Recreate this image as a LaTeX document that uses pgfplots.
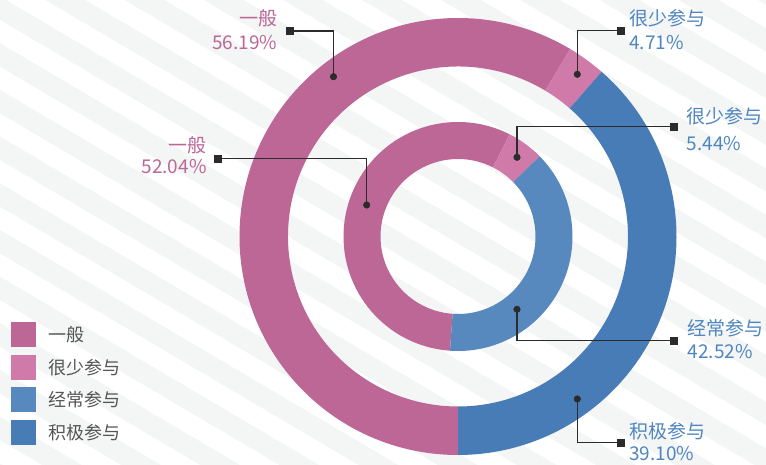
\documentclass[border=0pt]{standalone}
\usepackage{pgfplots}
\pgfplotsset{compat=1.18}
\usepackage{fontspec}
\setmainfont{Noto Sans CJK SC}
\definecolor{cYiban}{HTML}{BC6796}
\definecolor{cHenshao}{HTML}{CF7AA8}
\definecolor{cJingchang}{HTML}{5789BE}
\definecolor{cJiji}{HTML}{487CB6}
\definecolor{stripe}{HTML}{F4F6F6}
\definecolor{txtPink}{HTML}{BC6796}
\definecolor{txtBlue}{HTML}{4F86C0}
\definecolor{legtxt}{HTML}{555555}
\definecolor{leader}{HTML}{2B2B2B}

% ring centre (axis units = pt)
\def\cx{458}
\def\cy{227.5}
% wedge: colour, start angle, end angle, inner radius, outer radius
\newcommand\wedgeshape[5]{%
  \fill[#1] (axis cs:\cx,\cy) ++(#2:#5pt) arc[start angle=#2,end angle=#3,radius=#5pt]
     -- ++({#3+180}:{(#5-#4)*1pt}) arc[start angle=#3,end angle=#2,radius=#4pt] -- cycle;%
}

\begin{document}
\begin{tikzpicture}[font=\fontsize{19}{23}\selectfont]
\useasboundingbox (0,0) rectangle (766pt,464pt);
\clip (0,0) rectangle (766pt,464pt);
\fill[white] (0,0) rectangle (766pt,464pt);
\foreach \k in {-15,...,7}{
  \fill[stripe] (-10pt,{(286.6-46.7*\k)*1pt}) -- (776pt,{(-177.1-46.7*\k)*1pt})
     -- (776pt,{(-200.5-46.7*\k)*1pt}) -- (-10pt,{(263.2-46.7*\k)*1pt}) -- cycle;
}
\begin{axis}[
  x=1pt, y=1pt, xmin=0, xmax=766, ymin=0, ymax=464,
  hide axis, clip=false, anchor=south west, at={(0pt,0pt)},
  legend cell align=left,
  legend image code/.code={\fill[#1] (0pt,-12.5pt) rectangle (25pt,12.5pt);},
  legend style={at={(axis cs:11,142)}, anchor=north west, draw=none, fill=none,
    inner sep=0pt, outer sep=0pt, row sep=7.7pt,
    font=\fontsize{18}{20}\selectfont, text=legtxt,
    nodes={inner sep=0pt},
    /tikz/every odd column/.style={column sep=12.3pt}},
]
\addlegendimage{fill=cYiban,draw=none}
\addlegendentry{一般}
\addlegendimage{fill=cHenshao,draw=none}
\addlegendentry{很少参与}
\addlegendimage{fill=cJingchang,draw=none}
\addlegendentry{经常参与}
\addlegendimage{fill=cJiji,draw=none}
\addlegendentry{积极参与}

% outer ring (share of the circle as drawn, clockwise from the bottom)
\gdef\curang{270}
\foreach \v/\c in {58.58/cYiban, 2.83/cHenshao, 38.59/cJiji}{
  \pgfmathsetmacro\e{\curang-3.6*\v}
  \edef\temp{\noexpand\wedgeshape{\c}{\curang}{\e}{170}{218.5}}\temp
  \xdef\curang{\e}
}
% inner ring
\gdef\curang{266}
\foreach \v/\c in {56.33/cYiban, 5.19/cHenshao, 38.48/cJingchang}{
  \pgfmathsetmacro\e{\curang-3.6*\v}
  \edef\temp{\noexpand\wedgeshape{\c}{\curang}{\e}{77.5}{114.5}}\temp
  \xdef\curang{\e}
}

% leader lines
\addplot[leader, line width=1.2pt, forget plot] coordinates {(333.5,387.3) (333.5,433) (290,433)};
\addplot[leader, line width=1.2pt, forget plot] coordinates {(366.7,259) (366.7,305.5) (218,305.5)};
\addplot[leader, line width=1.2pt, forget plot] coordinates {(577.3,389.7) (577.3,433.3) (621,433.3)};
\addplot[leader, line width=1.2pt, forget plot] coordinates {(517,306.7) (517,337.5) (674,337.5)};
\addplot[leader, line width=1.2pt, forget plot] coordinates {(517,154.7) (517,123.3) (674,123.3)};
\addplot[leader, line width=1.2pt, forget plot] coordinates {(577.3,65) (577.3,21.3) (620.7,21.3)};
\addplot[only marks, mark=*, mark size=3.3pt, leader, forget plot] coordinates {
  (333.5,387.3) (366.7,259) (577.3,389.7) (517,306.7) (517,154.7) (577.3,65)};
\addplot[only marks, mark=square*, mark size=3.4pt, leader, forget plot] coordinates {
  (290,433) (218,305.5) (621,433.3) (674,337.5) (674,123.3) (620.7,21.3)};

% labels
\node[anchor=east, inner sep=0pt, text=txtPink] at (axis cs:277.5,445.7) {一般};
\node[anchor=east, inner sep=0pt, text=txtPink] at (axis cs:277.5,421.3) {56.19\%};
\node[anchor=east, inner sep=0pt, text=txtPink] at (axis cs:206.7,319) {一般};
\node[anchor=east, inner sep=0pt, text=txtPink] at (axis cs:206.7,297.3) {52.04\%};
\node[anchor=west, inner sep=0pt, text=txtBlue] at (axis cs:629,445.7) {很少参与};
\node[anchor=west, inner sep=0pt, text=txtBlue] at (axis cs:629,421.3) {4.71\%};
\node[anchor=west, inner sep=0pt, text=txtBlue] at (axis cs:686.7,347.3) {很少参与};
\node[anchor=west, inner sep=0pt, text=txtBlue] at (axis cs:686.7,320.7) {5.44\%};
\node[anchor=west, inner sep=0pt, text=txtBlue] at (axis cs:687.5,135.7) {经常参与};
\node[anchor=west, inner sep=0pt, text=txtBlue] at (axis cs:687.5,112.3) {42.52\%};
\node[anchor=west, inner sep=0pt, text=txtBlue] at (axis cs:629,32.3) {积极参与};
\node[anchor=west, inner sep=0pt, text=txtBlue] at (axis cs:629,10) {39.10\%};
\end{axis}
\end{tikzpicture}
\end{document}
